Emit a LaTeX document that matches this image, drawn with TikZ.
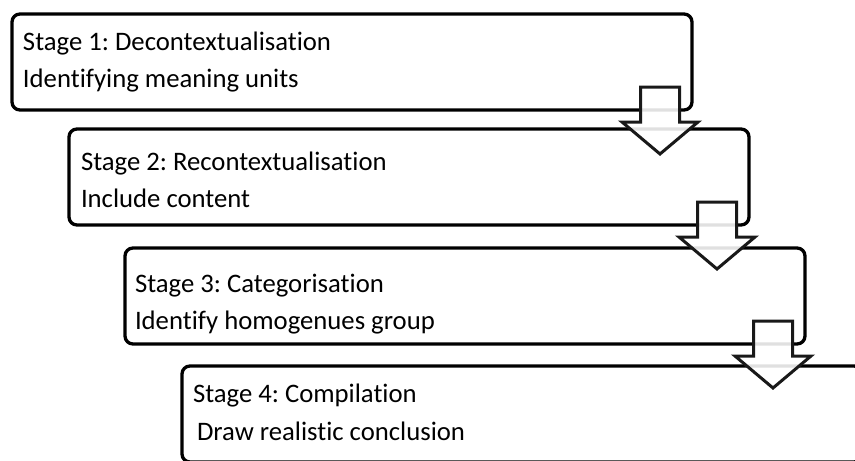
\documentclass[tikz,border=0pt]{standalone}
\usepackage{fontspec}
\setmainfont{Carlito}[Ligatures=NoCommon]
\begin{document}
\frenchspacing
\begin{tikzpicture}[x=1pt,y=-1pt,
  stagebox/.style={draw=black, line width=3.3pt, rounded corners=8pt, fill=white,
    outer sep=0pt, inner sep=0pt, anchor=north west, minimum width=680pt, minimum height=96pt},
  blockarrow/.style={draw=black!90, line width=3pt, fill=white, fill opacity=0.88, line join=miter},
  stagetext/.style={anchor=base west, inner sep=0pt, outer sep=0pt, font=\fontsize{26.7}{32}\selectfont}]
\useasboundingbox (0,0) rectangle (855,461);
\clip (0,0) rectangle (855,461);
% boxes
\node[stagebox] (s1) at (12,14) {};
\node[stagebox] (s2) at (69,129) {};
\node[stagebox] (s3) at (125,248) {};
\node[stagebox] (s4) at (182,366) {};
% texts
\node[stagetext] (t1a) at (23,50) {Stage 1: Decontextualisation};
\node[stagetext] (t1b) at (23,87) {Identifying meaning units};
\node[stagetext] (t2a) at (81,170) {Stage 2: Recontextualisation};
\node[stagetext] (t2b) at (81,207) {Include content};
\node[stagetext] (t3a) at (135,292) {Stage 3: Categorisation};
\node[stagetext] (t3b) at (135,329) {Identify homogenues group};
\node[stagetext] (t4a) at (193,402) {Stage 4: Compilation};
\node[stagetext] (t4b) at (197,440) {Draw realistic conclusion};
% arrows
\foreach \b in {1,2,3} {
  \path (s\b.south east) ++(-32,0) coordinate (a\b);
  \draw[blockarrow, shift={(a\b)}] (-19.5,-23) -- (19.5,-23) -- (19.5,12) -- (38,12)
    -- (0,44) -- (-38,12) -- (-19.5,12) -- cycle;
}
\end{tikzpicture}
\end{document}
